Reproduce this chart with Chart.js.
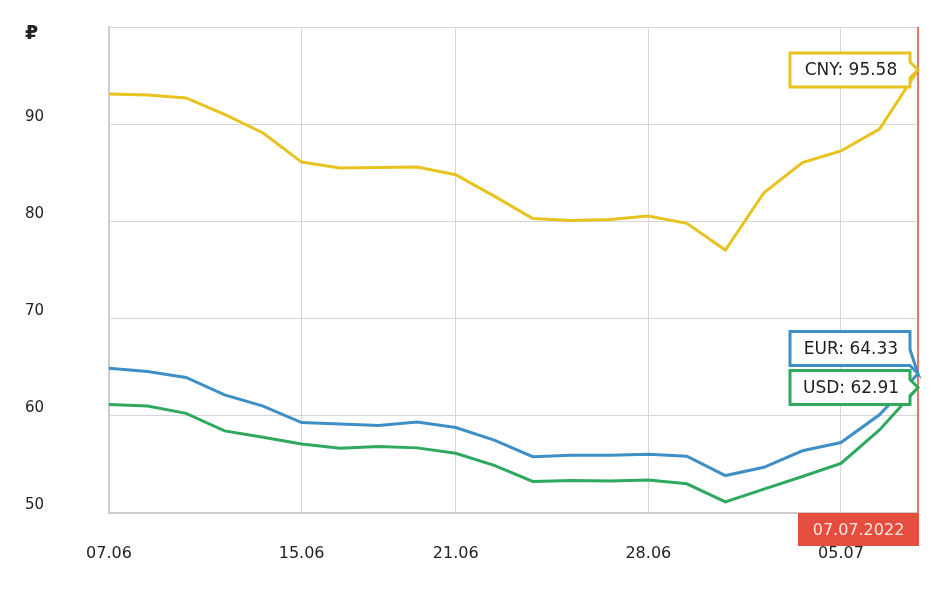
<!DOCTYPE html>
<html>
<head>
<meta charset="utf-8">
<script src="https://cdn.jsdelivr.net/npm/chart.js@4"></script>
<style>
html,body{margin:0;padding:0;background:#fff;}
#wrap{position:relative;width:949px;height:598px;}
</style>
</head>
<body>
<div id="wrap"><canvas id="c" width="949" height="598"></canvas></div>
<script>
// ---- data ----
const dates = ['07.06.2022','08.06.2022','09.06.2022','10.06.2022','11.06.2022','15.06.2022','16.06.2022','17.06.2022','18.06.2022','21.06.2022','22.06.2022','23.06.2022','24.06.2022','25.06.2022','28.06.2022','29.06.2022','30.06.2022','01.07.2022','02.07.2022','05.07.2022','06.07.2022','07.07.2022'];
const tickDates = ['07.06','15.06','21.06','28.06','05.07'];
const cny = [93.1,93.0,92.7,91.0,89.1,86.1,85.5,85.55,85.6,84.8,82.6,80.3,80.1,80.2,80.55,79.8,77.05,82.95,86.05,87.25,89.5,95.58];
const eur = [64.9,64.55,63.95,62.15,61.0,59.3,59.15,59.0,59.35,58.8,57.5,55.8,55.95,55.95,56.05,55.85,53.85,54.7,56.4,57.25,60.1,64.33];
const usd = [61.15,61.0,60.25,58.45,57.8,57.1,56.65,56.85,56.7,56.15,54.9,53.25,53.35,53.3,53.4,53.0,51.15,52.45,53.75,55.1,58.55,62.91];
const seriesNames = ['CNY','EUR','USD'];
const seriesColors = ['#e8c31f','#3f8fc7','#2fa95f'];
const yTicks = [50,60,70,80,90,100];
const currencySign = '₽';

const FONT = '"DejaVu Sans", Verdana, "Noto Sans", sans-serif';

const overlay = {
  id: 'overlay',
  afterDatasetsDraw(chart) {
    const ctx = chart.ctx, a = chart.chartArea;
    const xs = chart.scales.x;
    const lx = xs.getPixelForValue(dates.length - 1);
    ctx.save();
    ctx.strokeStyle = '#e0483a';
    ctx.lineWidth = 1.5;
    ctx.beginPath();
    ctx.moveTo(lx, a.top);
    ctx.lineTo(lx, a.bottom);
    ctx.stroke();
    ctx.restore();
  },
  afterDraw(chart) {
    const ctx = chart.ctx, a = chart.chartArea;
    const xs = chart.scales.x, ys = chart.scales.y;
    const last = dates.length - 1;
    const lx = xs.getPixelForValue(last);
    ctx.save();
    ctx.font = '17px ' + FONT;
    const H = 34, gap = 5;
    const items = chart.data.datasets.map((ds, i) => {
      const v = ds.data[last];
      return {name: seriesNames[i], color: seriesColors[i], v,
              tipY: ys.getPixelForValue(v), text: seriesNames[i] + ': ' + v.toFixed(2)};
    });
    items.forEach(it => it.cy = it.tipY);
    const sorted = items.slice().sort((p, q) => q.cy - p.cy);
    for (let i = 1; i < sorted.length; i++) {
      const below = sorted[i - 1], cur = sorted[i];
      const maxCy = below.cy - H - gap;
      if (cur.cy > maxCy) cur.cy = maxCy;
    }
    items.forEach(it => {
      const right = lx - 8;
      const w = 120;
      const left = right - w;
      const top = it.cy - H / 2, bottom = it.cy + H / 2;
      let b1 = Math.min(Math.max(it.tipY - 8, top + 2), bottom - 16);
      let b2 = b1 + 16;
      ctx.beginPath();
      ctx.moveTo(left, top);
      ctx.lineTo(right, top);
      ctx.lineTo(right, b1);
      ctx.lineTo(lx, it.tipY);
      ctx.lineTo(right, b2);
      ctx.lineTo(right, bottom);
      ctx.lineTo(left, bottom);
      ctx.closePath();
      ctx.fillStyle = '#fff';
      ctx.fill();
      ctx.lineWidth = 3;
      ctx.lineJoin = 'miter';
      ctx.strokeStyle = it.color;
      ctx.stroke();
      ctx.fillStyle = '#1e1e1e';
      ctx.textAlign = 'center';
      ctx.textBaseline = 'middle';
      ctx.fillText(it.text, (left + right) / 2 + 1, it.cy + 1);
    });
    const bw = 121, bh = 33;
    ctx.fillStyle = '#e54d3e';
    ctx.fillRect(lx - bw + 1, a.bottom, bw, bh);
    ctx.fillStyle = '#fde7e3';
    ctx.font = '16px ' + FONT;
    ctx.textAlign = 'center';
    ctx.textBaseline = 'middle';
    ctx.fillText(dates[last], lx - bw / 2 + 1, a.bottom + bh / 2 + 1);
    ctx.fillStyle = '#222';
    ctx.font = 'bold 19px ' + FONT;
    ctx.textAlign = 'left';
    ctx.textBaseline = 'middle';
    ctx.fillText(currencySign, 25, 34);
    ctx.restore();
  }
};

new Chart(document.getElementById('c'), {
  type: 'line',
  data: {
    labels: dates,
    datasets: [cny, eur, usd].map((d, i) => ({
      label: seriesNames[i],
      data: d,
      borderColor: seriesColors[i],
      backgroundColor: seriesColors[i],
      borderWidth: 3,
      pointRadius: 0,
      tension: 0,
      fill: false
    }))
  },
  options: {
    responsive: false,
    animation: false,
    events: [],
    layout: { autoPadding: false, padding: { left: 25, right: 31, top: 27, bottom: 0 } },
    plugins: { legend: { display: false }, tooltip: { enabled: false } },
    scales: {
      x: {
        type: 'category',
        offset: false,
        afterFit(s) { s.height = 85; },
        border: { display: true, color: '#cdcdcd', width: 2 },
        grid: {
          drawTicks: false,
          color: ctx => {
            const lab = dates[ctx.index];
            return lab && tickDates.includes(lab.slice(0, 5)) ? '#d6d6d6' : 'rgba(0,0,0,0)';
          },
          lineWidth: 1
        },
        ticks: {
          autoSkip: false,
          maxRotation: 0,
          minRotation: 0,
          padding: 31,
          color: '#222',
          font: { family: FONT, size: 16 },
          callback: function(v, i) {
            const lab = dates[i].slice(0, 5);
            return tickDates.includes(lab) ? lab : '';
          }
        }
      },
      y: {
        min: yTicks[0],
        max: yTicks[yTicks.length - 1],
        afterFit(s) { s.width = 84; },
        afterBuildTicks(s) { s.ticks = yTicks.map(v => ({ value: v })); },
        border: { display: true, color: '#cdcdcd', width: 2 },
        grid: { drawTicks: false, color: '#d6d6d6', lineWidth: 1 },
        ticks: {
          align: 'end',
          crossAlign: 'far',
          padding: 0,
          color: '#222',
          font: { family: FONT, size: 15 },
          callback: v => (v === yTicks[yTicks.length - 1] ? '' : String(v))
        }
      }
    }
  },
  plugins: [overlay]
});
</script>
</body>
</html>
